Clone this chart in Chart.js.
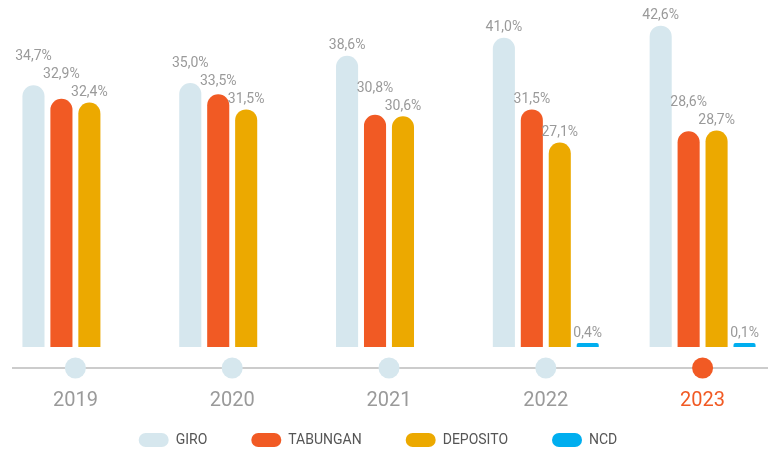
<!DOCTYPE html>
<html>
<head>
<meta charset="utf-8">
<script src="https://cdn.jsdelivr.net/npm/chart.js@4/dist/chart.umd.min.js"></script>
<style>
  html, body { margin: 0; padding: 0; background: #fff; overflow: hidden; width: 768px; height: 450px; }
  #wrap { position: absolute; left: -25px; top: 0; width: 806px; height: 457px; }
</style>
</head>
<body>
<div id="wrap"><canvas id="fundChart"></canvas></div>
<script>
// Data (%)
const years = ['2019', '2020', '2021', '2022', '2023'];
const giro = [34.7, 35.0, 38.6, 41.0, 42.6];
const tabungan = [32.9, 33.5, 30.8, 31.5, 28.6];
const deposito = [32.4, 31.5, 30.6, 27.1, 28.7];
const ncd = [null, null, null, 0.4, 0.1];

const GRAY = '#9a9a9a';
const ORANGE = '#f15a24';
const highlightIndex = years.length - 1;

Chart.defaults.font.family = 'Roboto, "Liberation Sans", sans-serif';

// timeline line, dots, year labels and value labels
const timelinePlugin = {
    id: 'timeline',
    afterDatasetsDraw(chart) {
        const { ctx, chartArea, scales } = chart;
        const y = chartArea.bottom + 21;
        ctx.save();
        ctx.strokeStyle = '#cccccc';
        ctx.lineWidth = 2;
        ctx.beginPath();
        ctx.moveTo(chartArea.left + 15, y);
        ctx.lineTo(chart.width, y);
        ctx.stroke();

        ctx.textAlign = 'center';
        ctx.textBaseline = 'middle';
        ctx.font = '20px Roboto, sans-serif';
        years.forEach(function(yr, i) {
            const cx = scales.x.getPixelForValue(i);
            ctx.fillStyle = i === highlightIndex ? ORANGE : '#d6e7ee';
            ctx.beginPath();
            ctx.arc(cx, y, 10.5, 0, Math.PI * 2);
            ctx.fill();
            ctx.fillStyle = i === highlightIndex ? ORANGE : GRAY;
            ctx.fillText(yr, cx, chartArea.bottom + 54);
        });

        // value labels above bars; placed right to left, stepping up when they collide
        ctx.fillStyle = GRAY;
        ctx.font = '14px Roboto, sans-serif';
        const nds = chart.data.datasets.length;
        years.forEach(function(yr, i) {
            let prev = null;
            for (let di = nds - 1; di >= 0; di--) {
                const v = chart.data.datasets[di].data[i];
                if (v === null || v === undefined) continue;
                const bar = chart.getDatasetMeta(di).data[i];
                const txt = v.toFixed(1).replace('.', ',') + '%';
                const w = ctx.measureText(txt).width;
                let ly = bar.y - 10;
                if (prev && Math.abs(prev.x - bar.x) < (prev.w + w) / 2 + 2 && Math.abs(prev.y - ly) < 18) {
                    ly = Math.min(ly, prev.y - 18);
                }
                ctx.fillText(txt, bar.x, ly);
                prev = { x: bar.x, y: ly, w: w };
            }
        });
        ctx.restore();
    }
};

const roundTop = { topLeft: 11, topRight: 11, bottomLeft: 0, bottomRight: 0 };

new Chart(document.getElementById('fundChart'), {
    type: 'bar',
    data: {
        labels: years,
        datasets: [
            { label: 'GIRO', data: giro, backgroundColor: '#d6e7ee' },
            { label: 'TABUNGAN', data: tabungan, backgroundColor: '#f15a24' },
            { label: 'DEPOSITO', data: deposito, backgroundColor: '#eca900' },
            { label: 'NCD', data: ncd, backgroundColor: '#00aeef', minBarLength: 4 }
        ].map(function(ds) {
            return Object.assign({
                borderWidth: 0,
                borderRadius: roundTop,
                borderSkipped: 'bottom',
                categoryPercentage: 0.713,
                barPercentage: 0.79
            }, ds);
        })
    },
    options: {
        responsive: true,
        maintainAspectRatio: false,
        animation: false,
        layout: { padding: 0 },
        plugins: {
            tooltip: { enabled: false },
            legend: {
                display: true,
                position: 'bottom',
                labels: {
                    boxWidth: 30,
                    boxHeight: 14,
                    useBorderRadius: true,
                    borderRadius: 7,
                    padding: 44,
                    color: '#555',
                    font: { size: 14 }
                }
            }
        },
        scales: {
            x: {
                grid: { display: false, drawTicks: false },
                border: { display: false },
                ticks: { display: false },
                afterFit: function(scale) { scale.height = 42; }
            },
            y: {
                position: 'left',
                min: 0,
                max: 46,
                grid: { display: false },
                border: { display: false },
                ticks: { display: false },
                afterFit: function(scale) { scale.width = 22; }
            }
        }
    },
    plugins: [timelinePlugin]
});
</script>
</body>
</html>
